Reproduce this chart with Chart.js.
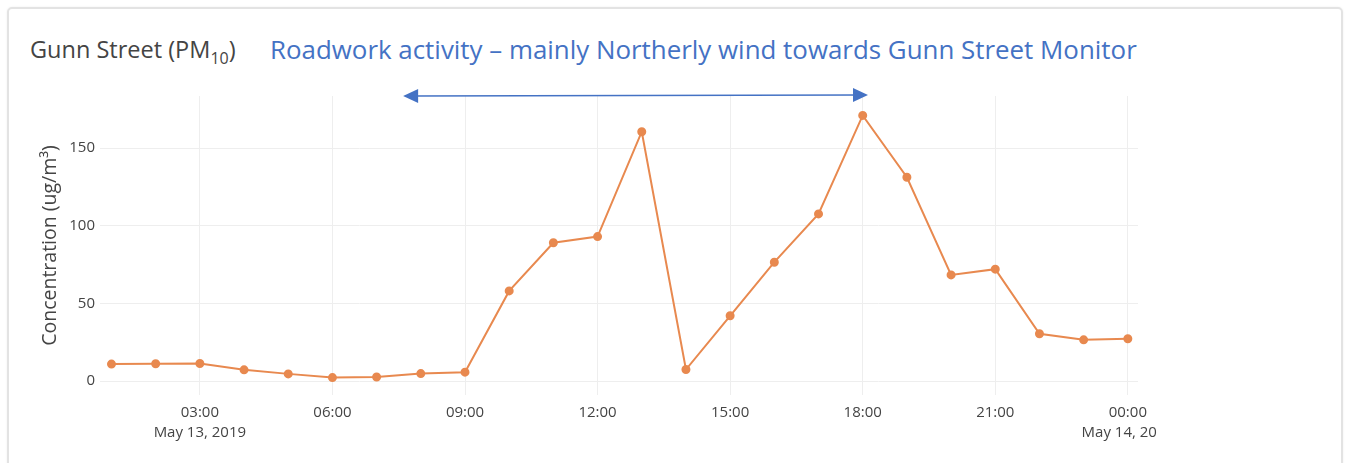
<!DOCTYPE html>
<html>
<head>
  <title>Gunn Street PM10</title>
  <script src="https://cdn.jsdelivr.net/npm/chart.js"></script>
  <style>
    body { margin: 0; background: #fff; width: 1349px; height: 463px; overflow: hidden; position: relative; }
    .card { position: absolute; left: 7px; top: 7px; width: 1332px; height: 470px;
            border: 2px solid #e3e3e3; border-radius: 5px; box-shadow: 0 0 2px rgba(0,0,0,0.08); }
    .title { position: absolute; left: 30px; top: 33px; font: 23.5px "Open Sans", sans-serif; color: #444; white-space: nowrap; }
    .title sub { font-size: 16px; vertical-align: -6px; line-height: 0; }
    .note { position: absolute; left: 270px; top: 31px; font: 25.9px "Open Sans", sans-serif; color: #4472c4; white-space: nowrap; }
    .clip { position: absolute; left: 0; top: 0; width: 1158px; height: 463px; overflow: hidden; }
    .wrap { position: absolute; left: 0; top: 0; width: 1200px; height: 463px; }
  </style>
</head>
<body>
  <div class="card"></div>
  <div class="title">Gunn Street (PM<sub>10</sub>)</div>
  <div class="note">Roadwork activity – mainly Northerly wind towards Gunn Street Monitor</div>
  <div class="clip"><div class="wrap"><canvas id="pmChart"></canvas></div></div>

  <script>
    // hours after midnight May 13, 2019 (24 = 00:00 May 14)
    const hours = [1, 2, 3, 4, 5, 6, 7, 8, 9, 10, 11, 12, 13, 14, 15, 16, 17, 18, 19, 20, 21, 22, 23, 24];
    const pm10 = [10.9, 11.1, 11.3, 7.2, 4.6, 2.2, 2.6, 4.8, 5.7, 58, 89, 93, 160.5, 7.4,
                  42, 76.5, 107.6, 171, 131.2, 68.3, 72, 30.4, 26.5, 27.2];
    const xTicks = [3, 6, 9, 12, 15, 18, 21, 24];
    const xTickLabels = {
      3: ['03:00', 'May 13, 2019'], 6: '06:00', 9: '09:00', 12: '12:00',
      15: '15:00', 18: '18:00', 21: '21:00', 24: ['00:00', 'May 14, 2019']
    };
    const yTicks = [0, 50, 100, 150];
    // roadwork period arrow (hours)
    const arrowFrom = 7.6;
    const arrowTo = 18.12;

    const arrowPlugin = {
      id: 'arrow',
      afterDraw(chart) {
        const ctx = chart.ctx;
        const x = chart.scales.x;
        const x1 = x.getPixelForValue(arrowFrom), x2 = x.getPixelForValue(arrowTo);
        const y = chart.chartArea.top;
        ctx.save();
        ctx.strokeStyle = '#4472c4';
        ctx.fillStyle = '#4472c4';
        ctx.lineWidth = 1.5;
        ctx.beginPath();
        ctx.moveTo(x1 + 10, y);
        ctx.lineTo(x2 - 10, y - 1);
        ctx.stroke();
        ctx.beginPath();
        ctx.moveTo(x1, y); ctx.lineTo(x1 + 15, y - 7); ctx.lineTo(x1 + 15, y + 7); ctx.closePath();
        ctx.fill();
        ctx.beginPath();
        ctx.moveTo(x2, y - 1); ctx.lineTo(x2 - 15, y - 8); ctx.lineTo(x2 - 15, y + 6); ctx.closePath();
        ctx.fill();
        ctx.restore();
      }
    };

    new Chart(document.getElementById('pmChart'), {
      type: 'line',
      data: {
        datasets: [{
          data: hours.map((h, i) => ({ x: h, y: pm10[i] })),
          borderColor: '#e8894f',
          backgroundColor: '#e8894f',
          borderWidth: 2,
          pointRadius: 3.5,
          pointHoverRadius: 3.5,
          tension: 0,
          fill: false
        }]
      },
      options: {
        responsive: true,
        maintainAspectRatio: false,
        animation: false,
        layout: { padding: { top: 96, right: 62, left: 38, bottom: 0 } },
        plugins: { legend: { display: false }, tooltip: { enabled: false } },
        scales: {
          x: {
            type: 'linear',
            min: 0.74,
            max: 24.23,
            afterBuildTicks: s => { s.ticks = xTicks.map(v => ({ value: v })); },
            afterFit: s => { s.height = 68; },
            grid: { color: '#eeeeee', drawTicks: false },
            border: { display: false },
            ticks: {
              padding: 8,
              color: '#444',
              font: { family: 'Open Sans', size: 15, lineHeight: 1.3 },
              maxRotation: 0,
              autoSkip: false,
              callback: v => xTickLabels[v]
            }
          },
          y: {
            min: -9,
            max: 183.5,
            afterBuildTicks: s => { s.ticks = yTicks.map(v => ({ value: v })); },
            afterFit: s => { s.width = 62; },
            grid: { color: '#eeeeee', drawTicks: false },
            border: { display: false },
            ticks: { padding: 5, color: '#444', font: { family: 'Open Sans', size: 15 } },
            title: {
              display: true,
              text: 'Concentration (ug/m³)',
              color: '#444',
              padding: { top: 1, bottom: 0 },
              font: { family: 'Open Sans', size: 19.5 }
            }
          }
        }
      },
      plugins: [arrowPlugin]
    });
  </script>
</body>
</html>
